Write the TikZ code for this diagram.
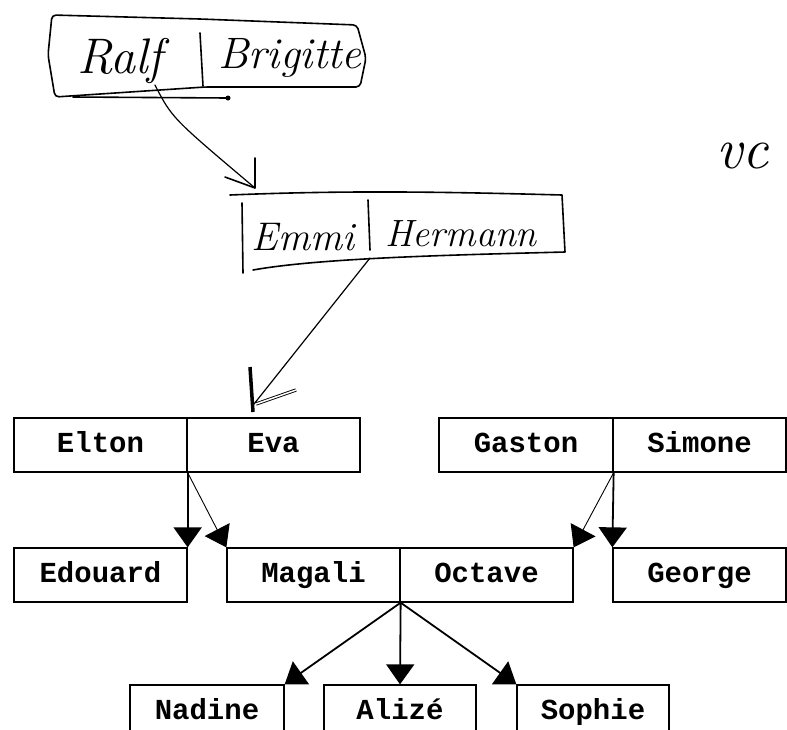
\documentclass[tikz,border=0pt]{standalone}
\usepackage{fontspec}
\newfontfamily\typefont{Liberation Mono}
\usetikzlibrary{arrows.meta}
\tikzset{
  person/.style={draw, line width=1.3pt, minimum height=54pt, inner sep=0pt,
    text height=19pt, text depth=5pt,
    font=\typefont\bfseries\fontsize{29}{29}\selectfont},
  child/.style={-{Triangle[length=20pt,width=28pt]}, line width=1.8pt},
  side/.style={-{Triangle[length=20pt,width=28pt]}, line width=0.9pt},
  hand/.style={line width=1.6pt, line cap=round, line join=round},
  script/.style={font=\itshape\fontsize{44}{44}\selectfont, inner sep=0pt, anchor=base},
}
\begin{document}
\begin{tikzpicture}[x=1pt,y=-1pt]
  \useasboundingbox (0,0) rectangle (787,729);
  \clip (0,0) rectangle (787,729);

  % handwritten part
  \node[script, font=\itshape\fontsize{50}{50}\selectfont] (ralf) at (120,73) {Ralf};
  \node[script] (brigitte) at (290,68) {Brigitte};
  \draw[hand, rounded corners=4pt] (52,15) -- (200,19) -- (357,25) -- (366,58)
    -- (360,87) -- (205,87) -- (55,97) -- (48,55) -- cycle;
  \draw[hand] (200,33) -- (203,86);
  \draw[hand] (73,97) -- (228,98);
  \fill (228,98) circle (2.5);

  \node[script, font=\itshape\fontsize{40}{40}\selectfont] (emmi) at (303,250) {Emmi};
  \node[script, font=\itshape\fontsize{38}{38}\selectfont] (hermann) at (461,246) {Hermann};
  \draw[hand] (230,195) .. controls (350,190) and (450,192) .. (562,195) -- (565,252)
    .. controls (450,255) and (320,258) .. (253,270);
  \draw[hand] (242,203) -- (243,273);
  \draw[hand] (368,200) -- (370,250);

  \node[script, font=\itshape\fontsize{58}{58}\selectfont, anchor=base west] (vc) at (716,168) {vc};

  \coordinate (ralfend) at (155,85);
  \coordinate (emmitop) at (255,188);
  \draw[hand, line width=1.2pt] (ralfend) .. controls (172,118) .. (emmitop);
  \draw[hand] (255,158) -- (emmitop) -- (225,177);

  \coordinate (emmiend) at (370,258);
  \coordinate (evatip) at (254,404);
  \draw[hand, line width=1.2pt] (emmiend) -- (evatip);
  \draw[line width=3.5pt] (250,367) -- (253,412);
  \draw[double, line width=0.9pt, double distance=1.5pt] (256,404) -- (296,390);

  % typed family
  \node[person, minimum width=173pt] (elton) at (100.5,445) {Elton};
  \node[person, minimum width=173pt] (eva) at (273.5,445) {Eva};
  \node[person, minimum width=174pt] (gaston) at (526,445) {Gaston};
  \node[person, minimum width=173pt] (simone) at (699.5,445) {Simone};
  \node[person, minimum width=173pt] (edouard) at (100.5,575) {Edouard};
  \node[person, minimum width=173pt] (magali) at (313.5,575) {Magali};
  \node[person, minimum width=173pt] (octave) at (486.5,575) {Octave};
  \node[person, minimum width=173pt] (george) at (699.5,575) {George};
  \node[person, minimum width=154pt] (nadine) at (207,712) {Nadine};
  \node[person, minimum width=152pt] (alize) at (400,712) {Alizé};
  \node[person, minimum width=152pt] (sophie) at (593,712) {Sophie};

  \draw[child] (elton.south east) -- (edouard.north east);
  \draw[side] (elton.south east) -- (magali.north west);
  \draw[child] (gaston.south east) -- (george.north west);
  \draw[side] (gaston.south east) -- (octave.north east);
  \draw[child] (magali.south east) -- (nadine.north east);
  \draw[child] (magali.south east) -- (alize.north);
  \draw[child] (magali.south east) -- (sophie.north west);
\end{tikzpicture}
\end{document}
